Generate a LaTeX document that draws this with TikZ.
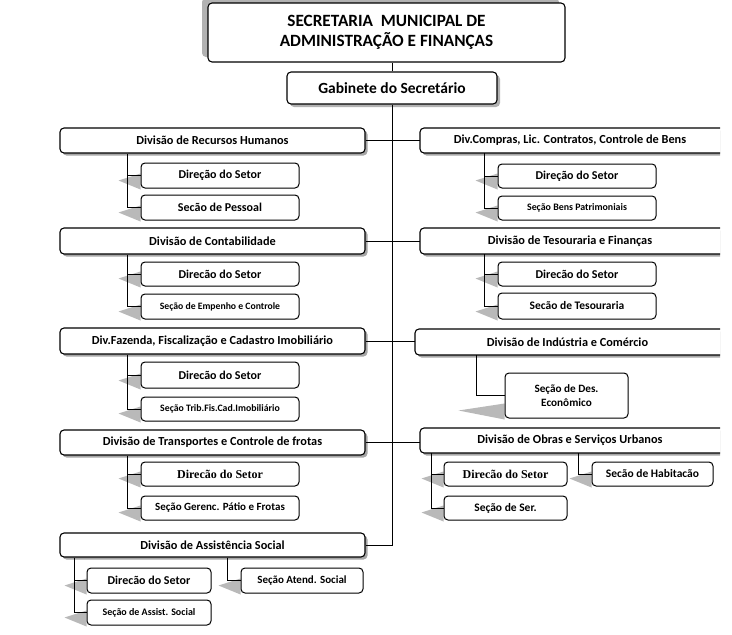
\documentclass[tikz,border=0pt]{standalone}
\usepackage{fontspec}
\setmainfont{Carlito}
\newfontfamily\serifb{Liberation Serif}
\usetikzlibrary{shadows,backgrounds,calc}
\newcommand\fsz[2]{\fontsize{#1}{#2}\selectfont\bfseries}
\newcommand\bx[7]{\node[#6, minimum width={(#4-#2)*1pt}, minimum height={(#5-#3)*1pt}] (#1) at ({(#2+#4)/2},{(#3+#5)/2}) {#7};}
\newcommand\wedg[2]{\fill[wedgefill] ([xshift=-#2pt,yshift=8pt]#1.south west) -- ([yshift=15pt]#1.south west) -- ([yshift=-1pt]#1.south west) -- cycle;}
\newcommand\pairlink[4]{%
  \coordinate (#2j) at ([xshift=-#4pt]#2.west);
  \draw[conn] (#2j |- #1.south) |- (#3.west);
  \draw[conn] (#2j) -- (#2.west);}
\newcommand\onelink[3]{%
  \coordinate (#2j) at ([xshift=-#3pt]#2.west);
  \draw[conn] (#2j |- #1.south) |- (#2.west);}
\begin{document}
\begin{tikzpicture}[x=1pt,y=-1pt,
  box/.style={draw=black, line width=1.1pt, rounded corners=4pt, fill=white, inner sep=0pt, align=center},
  mainbox/.style={box, drop shadow={shadow xshift=-6pt, shadow yshift=5pt, fill=gray!60, opacity=1}},
  gabbox/.style={box, drop shadow={shadow xshift=3pt, shadow yshift=-3pt, fill=gray!60, opacity=1}},
  divbox/.style={box, drop shadow={shadow xshift=2.5pt, shadow yshift=-2.5pt, fill=gray!70, opacity=1}, font=\fsz{12.3}{14}},
  divtext/.style={inner sep=0pt, align=center, font=\fsz{12.3}{14}},
  divframe/.style={draw=black, line width=1.1pt, rounded corners=4pt, fill=white, drop shadow={shadow xshift=2.5pt, shadow yshift=-2.5pt, fill=gray!70, opacity=1}},
  childbox/.style={box, line width=1pt},
  conn/.style={draw=black, line width=0.8pt},
  wedgefill/.style={fill=gray!55}]
\useasboundingbox (0,0) rectangle (732,635);

% top
\bx{main}{208}{3}{565}{62}{mainbox, font=\fsz{17.2}{20}}{SECRETARIA\ \ MUNICIPAL DE\\ADMINISTRAÇÃO E FINANÇAS}
\bx{gab}{287}{72}{497}{104}{gabbox, font=\fsz{15.5}{18}}{Gabinete do Secretário}

% left divisions
\bx{rh}{60}{128}{365}{153}{divbox}{Divisão de Recursos Humanos}
\bx{contab}{60}{228}{365}{254}{divbox}{Divisão de Contabilidade}
\bx{fazenda}{60}{328}{365}{354}{divbox}{Div.Fazenda, Fiscalização e Cadastro Imobiliário}
\bx{transp}{60}{430}{365}{455}{divbox}{Divisão de Transportes e Controle de frotas}
\bx{assist}{60}{533}{365}{557}{divbox}{Divisão de Assistência Social}

% right divisions (cut at the right edge)
\begin{scope}
\clip (0,0) rectangle (720,635);
\draw[divframe] (420,128) rectangle (745,153);
\draw[divframe] (420,228) rectangle (745,254);
\draw[divframe] (415,329) rectangle (745,355);
\draw[divframe] (420,428) rectangle (745,453);
\end{scope}
\bx{compras}{420}{128}{720}{153}{divtext}{Div.Compras, Lic. Contratos, Controle de Bens}
\bx{tesour}{420}{228}{720}{254}{divtext}{Divisão de Tesouraria e Finanças}
\bx{industria}{415}{329}{720}{355}{divtext}{Divisão de Indústria e Comércio}
\bx{obras}{420}{428}{720}{453}{divtext}{Divisão de Obras e Serviços Urbanos}

% children left
\bx{rhd}{141}{163}{299}{188}{childbox, font=\fsz{12}{14}}{Direção do Setor}
\bx{rhs}{141}{195}{299}{220}{childbox, font=\fsz{12}{14}}{Secão de Pessoal}
\bx{cod}{141}{262}{299}{286}{childbox, font=\fsz{12}{14}}{Direcão do Setor}
\bx{cos}{141}{294}{299}{319}{childbox, font=\fsz{9.7}{12}}{Seção de Empenho e Controle}
\bx{fad}{141}{362}{299}{388}{childbox, font=\fsz{12}{14}}{Direcão do Setor}
\bx{fas}{141}{397}{299}{421}{childbox, font=\fsz{9.8}{12}}{Seção Trib.Fis.Cad.Imobiliário}
\bx{trd}{141}{462}{299}{486}{childbox, font=\serifb\fsz{12}{14}}{Direcão do Setor}
\bx{trs}{141}{496}{299}{520}{childbox, font=\fsz{11}{13}}{Seção Gerenc. Pátio e Frotas}
\bx{asd}{87}{568}{211}{593}{childbox, font=\fsz{12}{14}}{Direcão do Setor}
\bx{ass}{87}{600}{211}{625}{childbox, font=\fsz{10}{12}}{Seção de Assist. Social}
\bx{asa}{241}{568}{363}{593}{childbox, font=\fsz{11}{13}}{Seção Atend. Social}

% children right
\bx{cpd}{498}{164}{656}{188}{childbox, font=\fsz{12}{14}}{Direção do Setor}
\bx{cps}{498}{196}{656}{220}{childbox, font=\fsz{9.9}{12}}{Seção Bens Patrimoniais}
\bx{ted}{498}{262}{656}{286}{childbox, font=\fsz{12}{14}}{Direcão do Setor}
\bx{tes}{498}{293}{656}{319}{childbox, font=\fsz{11.5}{13}}{Secão de Tesouraria}
\bx{ind}{505}{373}{628}{418}{childbox, font=\fsz{11.2}{14}}{Seção de Des.\\Econômico}
\bx{obd}{444}{462}{567}{486}{childbox, font=\serifb\fsz{12}{14}}{Direcão do Setor}
\bx{obs}{444}{496}{567}{520}{childbox, font=\fsz{11.5}{13}}{Seção de Ser.}
\bx{obh}{592}{462}{713}{486}{childbox, font=\fsz{11.5}{13}}{Secão de Habitacão}

% wedge shadows and connectors
\begin{scope}[on background layer]
\foreach \n in {rhd,rhs,cod,cos,fad,fas,trd,trs,asd,ass,asa,cpd,cps,ted,tes,obd,obs,obh}{\wedg{\n}{22}}
\wedg{ind}{46}
\end{scope}

\draw[conn] (gab.north) -- (gab.north |- main.south);
\draw[conn] (gab.south) |- (assist.east);
\draw[conn] (rh.east) -- (rh.east -| compras.west);
\draw[conn] (contab.east) -- (contab.east -| tesour.west);
\draw[conn] (fazenda.east) -- (fazenda.east -| industria.west);
\draw[conn] (transp.east) -- (transp.east -| obras.west);

\pairlink{rh}{rhd}{rhs}{13}
\pairlink{contab}{cod}{cos}{13}
\pairlink{fazenda}{fad}{fas}{13}
\pairlink{transp}{trd}{trs}{13}
\pairlink{assist}{asd}{ass}{12}
\onelink{assist}{asa}{13}
\pairlink{compras}{cpd}{cps}{13}
\pairlink{tesour}{ted}{tes}{13}
\onelink{industria}{ind}{28}
\pairlink{obras}{obd}{obs}{12}
\onelink{obras}{obh}{13}
\end{tikzpicture}
\end{document}
